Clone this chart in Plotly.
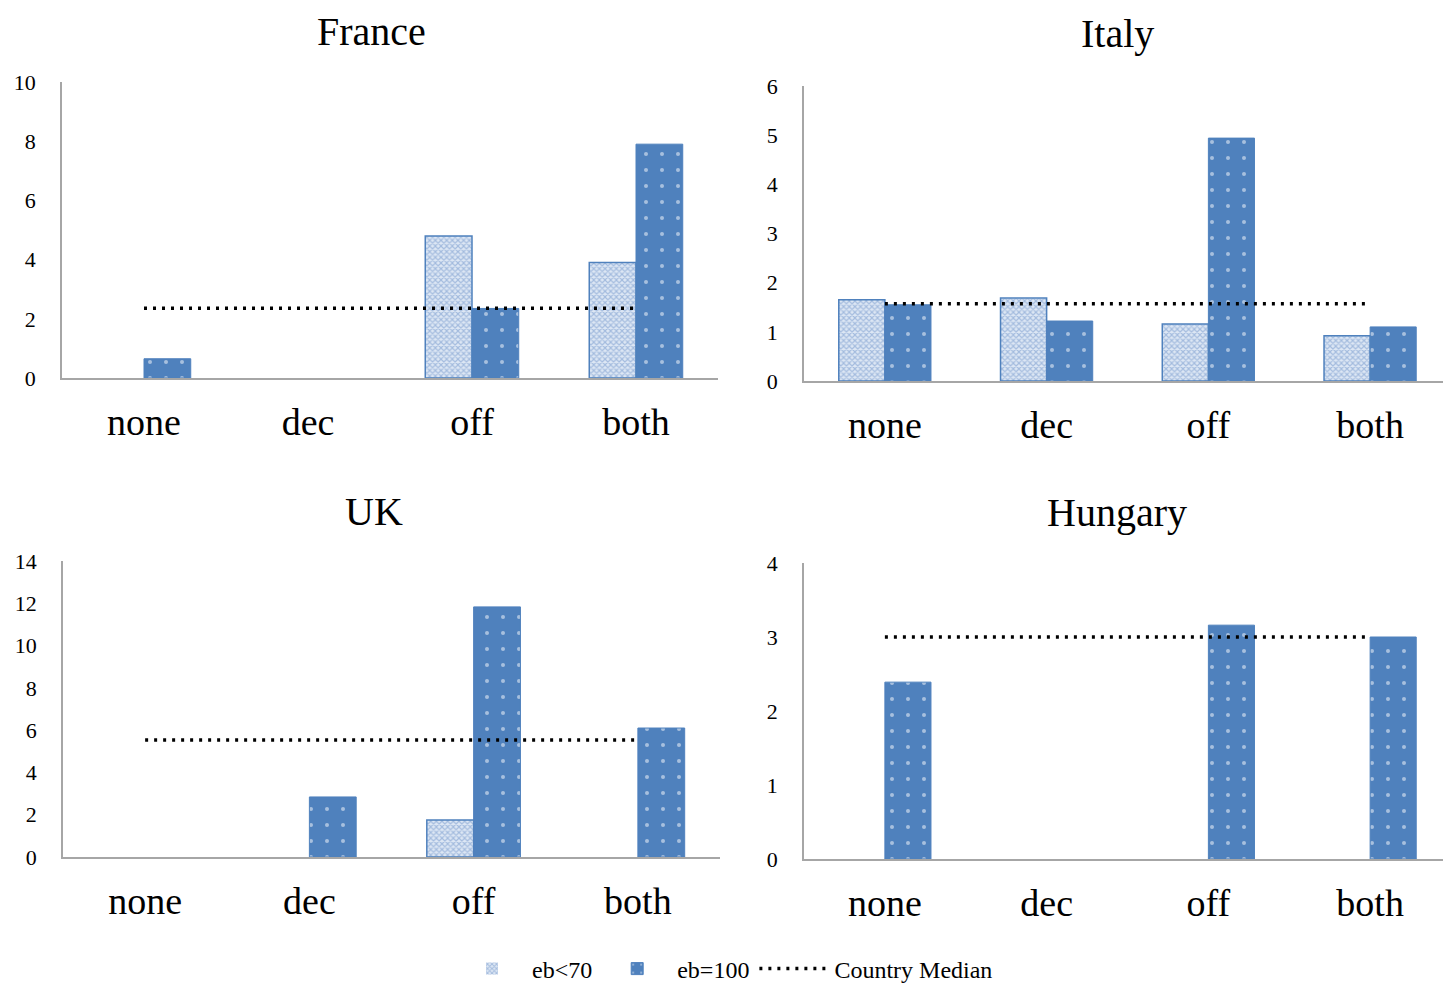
import plotly.graph_objects as go

categories = ["none", "dec", "off", "both"]
countries = ["France", "Italy", "UK", "Hungary"]

france_eb70 = [0, 0, 4.8, 3.9]
france_eb100 = [0.65, 0, 2.35, 7.9]
italy_eb70 = [1.65, 1.69, 1.16, 0.92]
italy_eb100 = [1.55, 1.22, 4.94, 1.10]
uk_eb70 = [0, 0, 1.75, 0]
uk_eb100 = [0, 2.84, 11.83, 6.1]
hungary_eb70 = [0, 0, 0, 0]
hungary_eb100 = [2.39, 0, 3.16, 3.0]

country_medians = [2.36, 1.57, 5.53, 3.0]
y_max = [10, 6, 14, 4]
y_step = [2, 1, 2, 1]

eb70 = [france_eb70, italy_eb70, uk_eb70, hungary_eb70]
eb100 = [france_eb100, italy_eb100, uk_eb100, hungary_eb100]

# the page body has an 8px margin, so the figure is drawn 8px smaller
# and every screen position is shifted by that offset
OFF = 8
W, H = 1451 - OFF, 986 - OFF


def fx(px):
    return (px - OFF) / W


def fy(py):
    return 1 - (py - OFF) / H


# plot areas in screen pixels: (left, right, top, bottom)
boxes = [(62, 718, 82, 378), (804, 1451, 86, 381), (63, 720, 561, 857), (804, 1451, 563, 859)]
# title box tops in screen pixels
title_pos = [(372, 8), (1117, 10), (374, 488), (1117, 489)]

BLUE = "#4f81bd"
FONT = "Liberation Serif"

fig = go.Figure()
layout = {}
annotations = []

for i, name in enumerate(countries):
    sfx = "" if i == 0 else str(i + 1)
    xa, ya = "x" + sfx, "y" + sfx
    first = i == 0

    # no outline on empty bars
    w70 = [1.5 if v > 0 else 0 for v in eb70[i]]
    w100 = [1 if v > 0 else 0 for v in eb100[i]]

    fig.add_trace(go.Bar(
        x=categories, y=eb70[i], name="eb<70", xaxis=xa, yaxis=ya,
        legendgroup="eb70", showlegend=first,
        marker=dict(color="#b9cce8", line=dict(color=BLUE, width=w70),
                    pattern=dict(shape="x", size=4, solidity=0.5,
                                 fgcolor="#6a90c8", bgcolor="#dde7f4")),
    ))
    fig.add_trace(go.Bar(
        x=categories, y=eb100[i], name="eb=100", xaxis=xa, yaxis=ya,
        legendgroup="eb100", showlegend=first,
        marker=dict(color=BLUE, line=dict(color=BLUE, width=w100),
                    pattern=dict(shape=".", size=16, solidity=0.05,
                                 fgcolor="white", bgcolor=BLUE)),
    ))
    fig.add_trace(go.Scatter(
        x=categories, y=[country_medians[i]] * len(categories), name="Country Median",
        xaxis=xa, yaxis=ya, mode="lines", legendgroup="med", showlegend=first,
        line=dict(color="black", width=3.5, dash="3px,6px"),
    ))

    l, r, t, b = boxes[i]
    layout["xaxis" + sfx] = dict(
        domain=[fx(l), min(fx(r), 1)], anchor=ya, showline=True, linecolor="#a6a6a6",
        linewidth=1.5, showgrid=False, ticks="", zeroline=False,
        tickfont=dict(family=FONT, size=38, color="black"), ticklabelstandoff=10,
    )
    layout["yaxis" + sfx] = dict(
        domain=[fy(b), fy(t)], anchor=xa, range=[0, y_max[i]],
        dtick=y_step[i], showline=True, linecolor="#a6a6a6", linewidth=1.5,
        showgrid=False, zeroline=False, ticks="",
        tickfont=dict(family=FONT, size=22, color="black"), ticklabelstandoff=20,
    )
    tx, ty = title_pos[i]
    annotations.append(dict(
        text=name, x=fx(tx), y=fy(ty), xref="paper", yref="paper",
        xanchor="center", yanchor="top", showarrow=False, borderpad=0,
        font=dict(family=FONT, size=40, color="black"),
    ))

fig.update_layout(
    **layout,
    annotations=annotations,
    barmode="group", bargap=0.43, bargroupgap=0,
    width=W, height=H,
    margin=dict(l=0, r=0, t=0, b=0, autoexpand=False),
    paper_bgcolor="white", plot_bgcolor="white",
    font=dict(family=FONT, color="black"),
    legend=dict(orientation="h", x=fx(725), xanchor="center", y=fy(969),
                yanchor="middle", font=dict(family=FONT, size=24),
                itemwidth=70, traceorder="normal"),
)

fig.write_html("out.html")
